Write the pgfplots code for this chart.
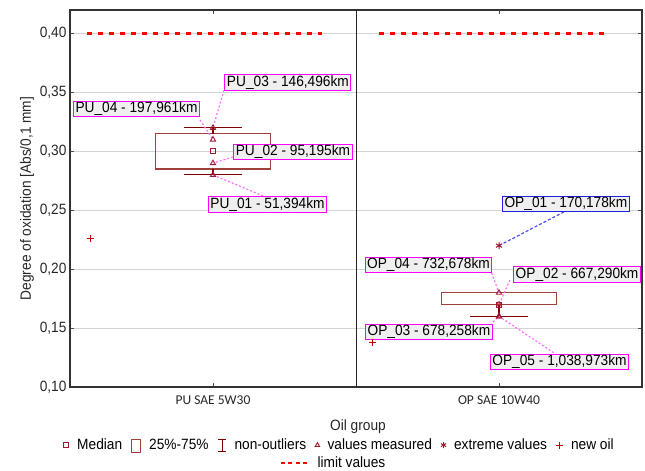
\documentclass[border=0pt]{standalone}
\usepackage{fontspec}
\setmainfont{Liberation Sans}[FakeStretch=0.92]
\newfontfamily\calib{Carlito}
\usepackage{pgfplots}
\pgfplotsset{compat=1.18}
\definecolor{boxcol}{HTML}{A0403C}
\definecolor{whcol}{HTML}{800000}
\definecolor{mkcol}{HTML}{9E1B32}
\definecolor{lblborder}{HTML}{FF00FF}
\definecolor{lblblue}{HTML}{2020E0}
\definecolor{lblfill}{HTML}{EFEFEF}
\definecolor{leader}{HTML}{FF70FF}
\definecolor{leaderblue}{HTML}{5050F0}
\definecolor{gridc}{HTML}{D4D4D4}
\newcommand\fs{\fontsize{14.9bp}{17bp}\selectfont}
\tikzset{lbl/.style={draw=lblborder, fill=lblfill, line width=1bp, inner xsep=2bp, inner ysep=1bp, text height=10.8bp, text depth=3bp, font=\fs, text=black},
 ldr/.style={leader, line width=1.2bp, dash pattern=on 2bp off 2bp}}
\begin{document}
\begin{tikzpicture}
\begin{axis}[name=ax, scale only axis, width=572bp, height=377bp,
 xmin=0.5, xmax=2.5, ymin=0.1, ymax=0.42, clip=false,
 axis line style={draw=black!80, line width=1.2bp},
 xtick={1,2}, xticklabels={PU SAE 5W30, OP SAE 10W40},
 xticklabel style={font=\calib\fontsize{13.5bp}{16bp}\selectfont, text=black!85, yshift=-5bp},
 ytick={0.1,0.15,0.2,0.25,0.3,0.35,0.4},
 yticklabel style={font=\fs, text=black!85},
 /pgf/number format/fixed, /pgf/number format/fixed zerofill,
 /pgf/number format/precision=2, /pgf/number format/use comma,
 /pgf/number format/assume math mode=true,
 tick align=inside, major tick length=4bp, tick style={black!70, line width=0.8bp},
 ymajorgrids, major grid style={gridc, line width=0.8bp},
 extra x ticks={1.5}, extra x tick labels={},
 extra x tick style={grid=major, major grid style={black!85, line width=1bp}, major tick length=0pt},
 xlabel={Oil group}, ylabel={Degree of oxidation [Abs/0,1 mm]},
 every axis x label/.style={at={(axis description cs:0.5035,-0.106)}, anchor=center, font=\fs, text=black!85},
 every axis y label/.style={at={(axis description cs:-0.0752,0.5)}, rotate=90, anchor=center, font=\fs, text=black!85},
 legend style={at={(axis description cs:-0.012,-0.154)}, anchor=west, draw=none, fill=none, inner sep=0pt, font=\fs,
   cells={anchor=west, inner sep=0pt},
   /tikz/every odd column/.append style={column sep=6bp},
   /tikz/every even column/.append style={column sep=7bp}},
 legend columns=6,
 unbounded coords=jump,
]
% boxes (25%-75%)
\addplot[forget plot, draw=boxcol, line width=1.1bp, line join=miter, mark=none]
 coordinates {(0.8,0.285) (1.2,0.285) (1.2,0.315) (0.8,0.315) (0.8,0.285) (1.2,0.285)};
\addplot[forget plot, draw=boxcol, line width=1.1bp, line join=miter, mark=none]
 coordinates {(1.8,0.17) (2.2,0.17) (2.2,0.18) (1.8,0.18) (1.8,0.17) (2.2,0.17)};
% non-outlier whiskers
\addplot[forget plot, draw=whcol, line width=1.1bp, mark=none]
 coordinates {(1,0.315) (1,0.32) (nan,nan) (0.9,0.32) (1.1,0.32) (nan,nan)
              (1,0.285) (1,0.28) (nan,nan) (0.9,0.28) (1.1,0.28)};
\addplot[forget plot, draw=whcol, line width=1.1bp, mark=none]
 coordinates {(2,0.17) (2,0.16) (nan,nan) (1.9,0.16) (2.1,0.16)};
% limit values
\addplot[forget plot, red, dash pattern=on 5bp off 6bp, line width=2.2bp] coordinates {(0.56,0.40) (1.38,0.40)};
\addplot[forget plot, red, dash pattern=on 5bp off 6bp, line width=2.2bp] coordinates {(1.58,0.40) (2.38,0.40)};
% leader lines
\draw[ldr] (axis cs:1.0385,0.352) -- (axis cs:1.0,0.32);
\draw[ldr] (axis cs:0.9545,0.3267) -- (axis cs:1.0,0.31);
\draw[ldr] (axis cs:1.070,0.2953) -- (axis cs:1.0,0.29);
\draw[ldr] (axis cs:1.175,0.2622) -- (axis cs:1.0,0.28);
\draw[leaderblue, line width=1.2bp, dash pattern=on 3bp off 2bp] (axis cs:2.227,0.2486) -- (axis cs:2.0,0.22);
\draw[ldr] (axis cs:1.974,0.1968) -- (axis cs:2.0,0.18);
\draw[ldr] (axis cs:2.038,0.1908) -- (axis cs:2.0,0.17);
\draw[ldr] (axis cs:1.979,0.1552) -- (axis cs:2.0,0.16);
\draw[ldr] (axis cs:2.203,0.1272) -- (axis cs:2.0,0.16);
% median
\addplot[forget plot, only marks, mark=square, mark size=2.5bp, mkcol, mark options={line width=0.9bp}] coordinates {(1,0.30) (2,0.17)};
% values measured
\addplot[forget plot, only marks, mark=triangle, mark size=3bp, mkcol, mark options={line width=0.9bp}] coordinates {(1,0.28) (1,0.29) (1,0.31) (1,0.32) (2,0.18) (2,0.17) (2,0.16) (2,0.16)};
% extreme values
\addplot[forget plot, only marks, mark=asterisk, mark size=3.5bp, mkcol, mark options={line width=1bp}] coordinates {(2,0.22)};
% new oil
\addplot[forget plot, only marks, mark=+, mark size=3.5bp, red!75!black, mark options={line width=1bp}] coordinates {(0.57,0.226) (1.556,0.138)};
% labels
\node[lbl] at (axis cs:1.262,0.3585) {PU\_03 - 146,496km};
\node[lbl] at (axis cs:0.7325,0.336) {PU\_04 - 197,961km};
\node[lbl] at (axis cs:1.2797,0.2995) {PU\_02 - 95,195km};
\node[lbl] at (axis cs:1.1906,0.255) {PU\_01 - 51,394km};
\node[lbl, draw=lblblue] at (axis cs:2.234,0.2554) {OP\_01 - 170,178km};
\node[lbl] at (axis cs:1.7535,0.2036) {OP\_04 - 732,678km};
\node[lbl] at (axis cs:2.273,0.1955) {OP\_02 - 667,290km};
\node[lbl] at (axis cs:1.755,0.1467) {OP\_03 - 678,258km};
\node[lbl] at (axis cs:2.2115,0.1212) {OP\_05 - 1,038,973km};
% legend
\addlegendimage{legend image code/.code={\draw[mkcol, line width=0.9bp] (0bp,-2.5bp) rectangle (5bp,2.5bp);}}
\addlegendentry{Median}
\addlegendimage{legend image code/.code={\draw[boxcol, line width=1bp] (0bp,-7bp) rectangle (9bp,6bp);}}
\addlegendentry{25\%-75\%}
\addlegendimage{legend image code/.code={\draw[whcol, line width=1bp] (0bp,-6bp)--(8bp,-6bp) (4bp,-6bp)--(4bp,6bp) (0bp,6bp)--(8bp,6bp);}}
\addlegendentry{non-outliers}
\addlegendimage{legend image code/.code={\draw[mkcol, line width=0.9bp] plot[mark=triangle, mark size=2.5bp] coordinates {(3bp,0bp)};}}
\addlegendentry{values measured}
\addlegendimage{legend image code/.code={\draw[mkcol, line width=1bp] plot[mark=asterisk, mark size=3bp] coordinates {(3bp,0bp)};}}
\addlegendentry{extreme values}
\addlegendimage{legend image code/.code={\draw[red!75!black, line width=1bp] plot[mark=+, mark size=3.5bp] coordinates {(3.5bp,0bp)};}}
\addlegendentry{new oil}
\end{axis}
\begin{axis}[scale only axis, width=572bp, height=377bp, hide axis,
 xmin=0, xmax=1, ymin=0, ymax=1,
 legend style={at={(axis description cs:0.367,-0.2016)}, anchor=west, draw=none, fill=none, inner sep=0pt, font=\fs,
   cells={anchor=west, inner sep=0pt},
   /tikz/every odd column/.append style={column sep=5bp}}]
\addlegendimage{legend image code/.code={\draw[red, dash pattern=on 4bp off 3.5bp, line width=1.4bp] (0bp,0bp)--(29bp,0bp);}}
\addlegendentry{limit values}
\end{axis}
\pgfresetboundingbox
\path[use as bounding box] (ax.south west) ++(-70bp,-84bp) rectangle ([shift={(3bp,10bp)}]ax.north east);
\end{tikzpicture}
\end{document}
